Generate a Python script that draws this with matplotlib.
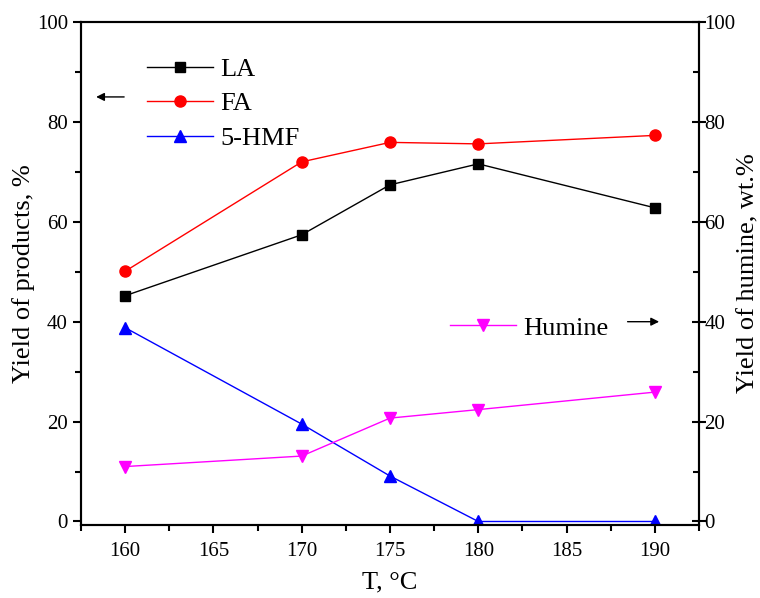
import numpy as np
import matplotlib.pyplot as plt
from matplotlib.ticker import MultipleLocator

plt.rcParams['font.family'] = ['Liberation Serif', 'DejaVu Serif']

temps = [160, 170, 175, 180, 190]
la = [45.2, 57.4, 67.4, 71.6, 62.8]
fa = [50.1, 72.0, 75.9, 75.6, 77.3]
hmf = [38.8, 19.5, 9.1, 0.0, 0.0]
humine = [11.0, 13.1, 20.7, 22.4, 25.9]

fig = plt.figure(figsize=(7.6, 5.98), dpi=100)
ax = fig.add_axes([0.1066, 0.1221, 0.8131, 0.8411])
ax2 = ax.twinx()

l1, = ax.plot(temps, la, color="black", lw=1, marker="s", ms=7, label="LA")
l2, = ax.plot(temps, fa, color="red", lw=1, marker="o", ms=8, label="FA")
l3, = ax.plot(temps, hmf, color="blue", lw=1, marker="^", ms=8, label="5-HMF")
l4, = ax2.plot(temps, humine, color="magenta", lw=1, marker="v", ms=8, label="Humine")

for a in (ax, ax2):
    a.set_xlim(157.5, 192.5)
    a.set_ylim(-0.7, 100)
    for s in a.spines.values():
        s.set_linewidth(1.5)

ax.xaxis.set_major_locator(MultipleLocator(5))
ax.xaxis.set_minor_locator(MultipleLocator(2.5))
ax.yaxis.set_major_locator(MultipleLocator(20))
ax.yaxis.set_minor_locator(MultipleLocator(10))
ax2.yaxis.set_major_locator(MultipleLocator(20))
ax2.yaxis.set_minor_locator(MultipleLocator(10))

ax.tick_params(axis="both", which="major", direction="out", length=6, width=1.5,
               labelsize=15, top=False, right=False)
ax.tick_params(axis="x", which="major", pad=6)
ax.tick_params(axis="both", which="minor", direction="out", length=4, width=1.5,
               top=False, right=False)
ax2.tick_params(axis="y", which="major", direction="inout", length=10, width=1.5,
                labelsize=15, pad=-1)
ax2.tick_params(axis="y", which="minor", direction="in", length=4, width=1.5)

ax.set_xlabel("T, °C", fontsize=19, labelpad=8)
ax.set_ylabel("Yield of products, %", fontsize=19, labelpad=1)
ax2.set_ylabel("Yield of humine, wt.%", fontsize=19, labelpad=1)

leg1 = ax.legend(handles=[l1, l2, l3], loc="upper left", bbox_to_anchor=(0.085, 0.956),
                 frameon=False, fontsize=19, handlelength=2.5, handletextpad=0.3,
                 labelspacing=0.42, borderpad=0)
leg2 = ax2.legend(handles=[l4], loc="center left", bbox_to_anchor=(0.575, 0.392),
                  frameon=False, fontsize=19, handlelength=2.5, handletextpad=0.3,
                  borderpad=0)

# arrows pointing to the axis each group belongs to
ax.annotate("", xy=(158.2, 85), xytext=(160.1, 85),
            arrowprops=dict(arrowstyle="-|>", color="black", lw=1, mutation_scale=12))
ax.annotate("", xy=(190.4, 40), xytext=(188.3, 40),
            arrowprops=dict(arrowstyle="-|>", color="black", lw=1, mutation_scale=12))

fig.savefig("out.png", dpi=100)
